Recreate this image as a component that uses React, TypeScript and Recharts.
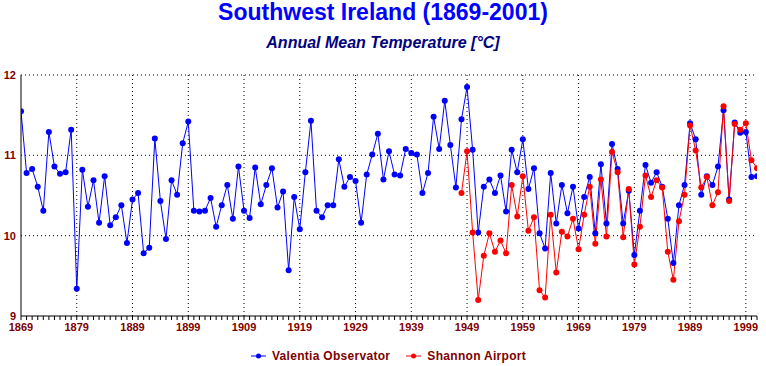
import React from 'react';
import {
  LineChart,
  Line,
  XAxis,
  YAxis,
  ReferenceLine,
  Legend,
} from 'recharts';

const firstYear = 1869;
const lastYear = 2001;
const years = Array.from({ length: lastYear - firstYear + 1 }, (_, i) => firstYear + i);

// Valentia Observatory, 1869-2001
const valentia = [
  11.55, 10.78, 10.83, 10.61, 10.31, 11.29, 10.86, 10.77, 10.79, 11.32, // 1869-1878
  9.34, 10.82, 10.36, 10.69, 10.16, 10.74, 10.13, 10.23, 10.38, 9.91, // 1879-1888
  10.45, 10.53, 9.78, 9.85, 11.21, 10.43, 9.96, 10.69, 10.51, 11.15, // 1889-1898
  11.42, 10.31, 10.3, 10.31, 10.47, 10.11, 10.38, 10.63, 10.21, 10.86, // 1899-1908
  10.31, 10.22, 10.85, 10.39, 10.63, 10.84, 10.35, 10.55, 9.57, 10.48, // 1909-1918
  10.08, 10.79, 11.43, 10.31, 10.23, 10.38, 10.38, 10.95, 10.61, 10.73, // 1919-1928
  10.68, 10.16, 10.76, 11.01, 11.27, 10.7, 11.05, 10.76, 10.75, 11.08, // 1929-1938
  11.03, 11.01, 10.53, 10.78, 11.48, 11.08, 11.68, 11.13, 10.6, 11.45, // 1939-1948
  11.85, 11.07, 10.04, 10.61, 10.7, 10.53, 10.75, 10.3, 11.07, 10.79, // 1949-1958
  11.2, 10.58, 10.84, 10.03, 9.84, 10.78, 10.15, 10.63, 10.28, 10.61, // 1959-1968
  10.09, 10.48, 10.73, 10.03, 10.89, 10.15, 11.14, 10.83, 10.15, 10.56, // 1969-1978
  9.76, 10.31, 10.88, 10.66, 10.79, 10.61, 10.21, 9.66, 10.38, 10.63, // 1979-1988
  11.4, 11.2, 10.51, 10.74, 10.63, 10.86, 11.56, 10.45, 11.41, 11.28, // 1989-1998
  11.29, 10.73, 10.74, // 1999-2001
];

// Shannon Airport, 1948-2001
const shannonStart = 1948;
const shannon = [
  10.53, 11.05, 10.04, 9.2, 9.75, 10.03, 9.8, 9.94, 9.78, 10.63, 10.24, // 1948-1958
  10.74, 10.06, 10.23, 9.32, 9.23, 10.26, 9.54, 10.05, 9.99, 10.21, // 1959-1968
  9.83, 10.26, 10.61, 9.9, 10.7, 9.99, 11.04, 10.79, 9.98, 10.58, // 1969-1978
  9.64, 10.11, 10.75, 10.48, 10.69, 10.6, 9.8, 9.45, 10.18, 10.51, // 1979-1988
  11.37, 11.06, 10.6, 10.73, 10.38, 10.54, 11.61, 10.43, 11.39, 11.32, // 1989-1998
  11.4, 10.94, 10.84, // 1999-2001
];

const yTicks = [9, 10, 11, 12];
const decadeLines = [1879, 1889, 1899, 1909, 1919, 1929, 1939, 1949, 1959, 1969, 1979, 1989, 1999];

const data = years.map((year, i) => ({
  year,
  valentia: valentia[i],
  shannon: year >= shannonStart ? shannon[year - shannonStart] : null,
}));

const labelColor = '#800000';
const font = '"Liberation Sans", Arial, sans-serif';

const YearTick = (props: any) => {
  const { x, y, payload } = props;
  if ((payload.value - firstYear) % 10 !== 0) return <g />;
  return (
    <text
      x={x}
      y={y}
      dy={9}
      textAnchor="middle"
      fill={labelColor}
      fontSize={11}
      fontWeight="bold"
      fontFamily={font}
    >
      {payload.value}
    </text>
  );
};

const LegendItem = ({ color, text }: { color: string; text: string }) => (
  <div style={{ display: 'flex', alignItems: 'center', gap: 6 }}>
    <svg width={15} height={8}>
      <line x1={0} y1={4} x2={15} y2={4} stroke={color} strokeWidth={1} />
      <circle cx={7.5} cy={4} r={2.5} fill={color} />
    </svg>
    <span
      style={{
        color: labelColor,
        fontSize: 12,
        fontWeight: 'bold',
        letterSpacing: 0.3,
        fontFamily: font,
      }}
    >
      {text}
    </span>
  </div>
);

const renderLegend = () => (
  <div
    style={{
      height: 16,
      display: 'flex',
      justifyContent: 'center',
      alignItems: 'center',
      gap: 16,
      paddingLeft: 20,
    }}
  >
    <LegendItem color="#0000FF" text="Valentia Observator" />
    <LegendItem color="#FF0000" text="Shannon Airport" />
  </div>
);

export default function App() {
  return (
    <div
      style={{
        position: 'absolute',
        left: 0,
        top: 0,
        width: 766,
        height: 366,
        background: '#fff',
      }}
    >
      <div
        style={{
          position: 'absolute',
          top: -1,
          width: 766,
          textAlign: 'center',
          color: '#0000FF',
          fontSize: 23,
          fontWeight: 'bold',
          lineHeight: '26px',
          fontFamily: font,
        }}
      >
        Southwest Ireland (1869-2001)
      </div>
      <div
        style={{
          position: 'absolute',
          top: 34,
          width: 766,
          textAlign: 'center',
          color: '#000080',
          fontSize: 16,
          fontWeight: 'bold',
          fontStyle: 'italic',
          lineHeight: '18px',
          fontFamily: font,
        }}
      >
        Annual Mean Temperature [°C]
      </div>
      <LineChart
        width={766}
        height={366}
        data={data}
        margin={{ top: 75, right: 9, left: 0, bottom: 2 }}
      >
        <XAxis
          dataKey="year"
          type="number"
          domain={[firstYear, lastYear]}
          ticks={years}
          interval={0}
          tickSize={4}
          tickMargin={2}
          height={32}
          axisLine={{ stroke: '#000' }}
          tickLine={{ stroke: '#000' }}
          tick={<YearTick />}
          allowDataOverflow
        />
        <YAxis
          type="number"
          domain={[9, 12]}
          ticks={yTicks}
          width={21}
          tickLine={false}
          tickSize={2}
          tickMargin={3}
          axisLine={{ stroke: '#000' }}
          tick={{ fill: labelColor, fontSize: 11, fontWeight: 'bold', fontFamily: font }}
        />
        {yTicks.slice(1).map((v) => (
          <ReferenceLine key={`h${v}`} y={v} stroke="#000" strokeDasharray="1 3" />
        ))}
        {decadeLines.map((v) => (
          <ReferenceLine key={`v${v}`} x={v} stroke="#000" strokeDasharray="1 3" />
        ))}
        <Legend verticalAlign="bottom" content={renderLegend} />
        <Line
          type="linear"
          dataKey="valentia"
          name="Valentia Observator"
          stroke="#0000FF"
          strokeWidth={1}
          dot={{ r: 3, fill: '#0000FF', stroke: 'none' }}
          activeDot={false}
          isAnimationActive={false}
        />
        <Line
          type="linear"
          dataKey="shannon"
          name="Shannon Airport"
          stroke="#FF0000"
          strokeWidth={1}
          dot={{ r: 3, fill: '#FF0000', stroke: 'none' }}
          activeDot={false}
          connectNulls={false}
          isAnimationActive={false}
        />
      </LineChart>
    </div>
  );
}
